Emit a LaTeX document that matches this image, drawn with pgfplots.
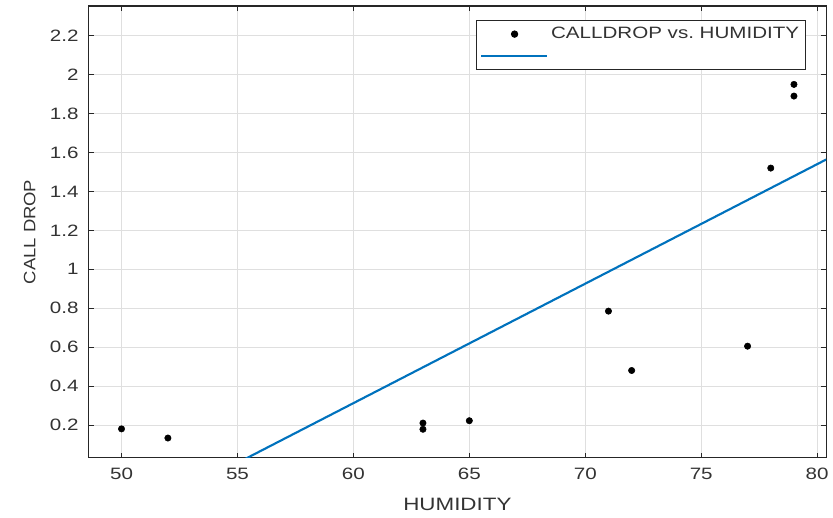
\documentclass[border=0pt]{standalone}
\usepackage{fontspec}
\setmainfont{Liberation Sans}[FakeStretch=1.25]
\newfontfamily\ylabfont{Liberation Sans}[FakeStretch=1.12]
\usepackage{pgfplots}
\pgfplotsset{compat=1.18}
\definecolor{mblue}{RGB}{0,114,189}
\definecolor{axgray}{RGB}{38,38,38}

\begin{document}
\begin{tikzpicture}
\begin{axis}[
  scale only axis, width=555.75pt, height=340.5pt,
  xmin=48.58, xmax=80.39, ymin=0.031, ymax=2.353,
  xtick={50,55,...,80}, ytick={0.2,0.4,...,2.2},
  yticklabels={0.2,0.4,0.6,0.8,1,1.2,1.4,1.6,1.8,2,2.2},
  xticklabels={50,55,60,65,70,75,80},
  tick align=inside, major tick length=4pt,
  tick style={axgray, line width=0.6pt},
  axis line style={axgray, line width=0.9pt},
  grid=major, grid style={gray!25, line width=0.5pt},
  ticklabel style={font=\fontsize{12.4}{14}\selectfont, text=black!80},
  xticklabel style={yshift=-4pt},
  yticklabel style={xshift=-4pt},
  xlabel={\fontsize{13.5}{16}\selectfont HUMIDITY},
  xlabel style={text=black!80, yshift=-7pt},
  ylabel={\ylabfont\fontsize{12.4}{15}\selectfont CALL DROP},
  ylabel style={text=black!80, yshift=4pt},
  legend style={at={(0.973,0.969)}, anchor=north east, draw=axgray,
    line width=0.7pt, font=\fontsize{12.4}{14}\selectfont, text=black!80,
    row sep=0pt, inner xsep=3pt, inner ysep=2pt,
    nodes={text height=11pt, text depth=4pt, inner ysep=0.8pt}},
  legend cell align=left,
]
\addplot[only marks, mark=*, mark size=2.4pt, black,
  legend image code/.code={\fill[black] (0.88cm,0cm) circle (2.4pt);}]
  coordinates {(50,0.18) (52,0.133) (63,0.21) (63,0.178) (65,0.222)
               (71,0.785) (72,0.48) (77,0.605) (78,1.52) (79,1.95) (79,1.89)};
\addlegendentry{CALLDROP vs.\ HUMIDITY}
\addplot[mblue, line width=1.6pt,
  legend image code/.code={\draw[mblue, line width=1.6pt] (0cm,0cm) -- (1.75cm,0cm);}]
  coordinates {(48.58,-0.389) (80.39,1.564)};
\addlegendentry{}
\end{axis}
\path (current axis.south west) ++(-66.75pt,-45pt) coordinate (bl);
\path (current axis.north east) ++(2.25pt,4.5pt) coordinate (tr);
\useasboundingbox (bl) rectangle (tr);
\end{tikzpicture}
\end{document}
